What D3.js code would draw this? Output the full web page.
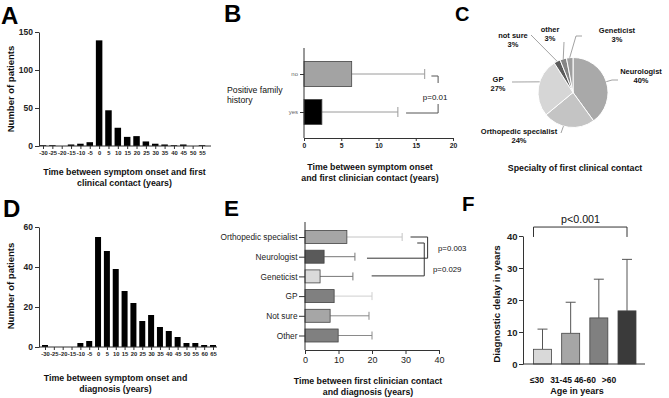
<!DOCTYPE html>
<html>
<head>
<meta charset="utf-8">
<script src="https://cdn.jsdelivr.net/npm/d3@7"></script>
<style>
  body { margin: 0; background: #fff; }
  svg { display: block; }
</style>
</head>
<body>
<svg width="669" height="398"></svg>
<script>
// ---- data ----
// A: time between symptom onset and first clinical contact
const onsetBins = [-30, -25, -20, -15, -10, -5, 0, 5, 10, 15, 20, 25, 30, 35, 40, 45, 50, 55];
const onsetCounts = [1, 1, 0, 2, 3, 5, 139, 47, 24, 12, 13, 6, 3, 2, 1, 2, 0, 1];
// D: time between symptom onset and diagnosis
const diagBins = [-30, -25, -20, -15, -10, -5, 0, 5, 10, 15, 20, 25, 30, 35, 40, 45, 50, 55, 60, 65];
const diagCounts = [1, 0, 0, 0, 2, 3, 55, 48, 39, 28, 22, 13, 16, 10, 8, 5, 2, 2, 1, 1];
// B: positive family history
const familyGroups = ['no', 'yes'];
const familyMean = [6.4, 2.4];
const familyUpper = [16.2, 12.6];
// C: specialty of first clinical contact (%)
const specialties = ['Neurologist', 'Orthopedic specialist', 'GP', 'not sure', 'other', 'Geneticist'];
const specialtyPct = [40, 24, 27, 3, 3, 3];
// E: first clinician contact -> diagnosis
const clinicians = ['Orthopedic specialist', 'Neurologist', 'Geneticist', 'GP', 'Not sure', 'Other'];
const clinicianMean = [12.5, 5.7, 4.5, 8.7, 7.5, 9.9];
const clinicianUpper = [29, 14.9, 14.3, 20, 19.1, 20];
// F: diagnostic delay by age
const ageGroups = ['≤30', '31-45', '46-60', '>60'];
const ageMean = [4.6, 9.6, 14.4, 16.6];
const ageUpper = [10.9, 19.3, 26.5, 32.7];

const svg = d3.select('svg');
const font = '"Liberation Sans", Arial, sans-serif';
const ink = '#333';

const styleAxis = (g, size, weight, color) => {
  g.attr('font-family', font).attr('font-size', size).attr('font-weight', weight);
  g.selectAll('line').attr('stroke', ink);
  g.selectAll('path').attr('stroke', ink);
  g.selectAll('text').attr('fill', color || '#222');
};

const text = (x, y, lines, size, weight, anchor, lh) => {
  const t = svg.append('text')
    .attr('x', x).attr('y', y)
    .attr('font-family', font).attr('font-size', size)
    .attr('font-weight', weight || 'normal')
    .attr('text-anchor', anchor || 'middle')
    .attr('fill', '#111');
  [].concat(lines).forEach((s, i) => {
    t.append('tspan').attr('x', x).attr('dy', i ? lh : 0).text(s);
  });
  return t;
};

const vtext = (x, y, str, size) => svg.append('text')
  .attr('transform', `translate(${x},${y}) rotate(-90)`)
  .attr('font-family', font).attr('font-size', size).attr('font-weight', 'bold')
  .attr('text-anchor', 'middle').attr('fill', '#111').text(str);

const line = (pts, color, w) => svg.append('path')
  .attr('d', d3.line()(pts)).attr('fill', 'none')
  .attr('stroke', color || ink).attr('stroke-width', w || 1);

const panelLetter = (x, y, s, size) => svg.append('text')
  .attr('x', x).attr('y', y).text(s)
  .attr('font-family', font).attr('font-weight', 'bold')
  .attr('font-size', size).attr('fill', '#000');

// ---- histograms A and D ----
const histogram = (bins, counts, o) => {
  const x = d3.scalePoint().domain(bins).range(o.xr);
  const y = d3.scaleLinear().domain([0, o.ymax]).range(o.yr);

  svg.append('g').selectAll('rect').data(bins).join('rect')
    .attr('x', d => x(d) - o.bw / 2)
    .attr('width', o.bw)
    .attr('y', (d, i) => y(counts[i]))
    .attr('height', (d, i) => y(0) - y(counts[i]))
    .attr('fill', '#000');

  const gy = svg.append('g')
    .attr('transform', `translate(${o.x0},0)`)
    .call(d3.axisLeft(y).tickValues(o.yticks).tickSize(4).tickPadding(2).tickSizeOuter(0));
  styleAxis(gy, 8.5, 'bold');

  const gx = svg.append('g')
    .attr('transform', `translate(0,${y(0)})`)
    .call(d3.axisBottom(x).tickSize(3).tickPadding(2).tickFormat(d => String(d)));
  gx.select('.domain').remove();
  styleAxis(gx, 5.8, 'bold');
  line([[o.x0, y(0)], [o.xEnd, y(0)]], ink, 1);
};

histogram(onsetBins, onsetCounts, {
  xr: [43, 202], yr: [146, 32], ymax: 150, x0: 39, xEnd: 211, bw: 6.5, yticks: [0, 50, 100, 150]
});
vtext(13.5, 89, 'Number of patients', 9.5);
text(124.5, 174.5, ['Time between symptom onset and first', 'clinical contact (years)'], 8.8, 'bold', 'middle', 11.5);
panelLetter(1, 24, 'A', 24);

histogram(diagBins, diagCounts, {
  xr: [45, 213], yr: [347, 227], ymax: 60, x0: 39, xEnd: 217, bw: 6, yticks: [0, 20, 40, 60]
});
vtext(13.5, 286, 'Number of patients', 9.5);
text(115.5, 381, ['Time between symptom onset and', 'diagnosis (years)'], 8.8, 'bold', 'middle', 10.8);
panelLetter(3, 217, 'D', 24);

// ---- B: family history ----
{
  const x = d3.scaleLinear().domain([0, 20]).range([304, 453]);
  const y = d3.scalePoint().domain(familyGroups).range([74, 112]);
  const fills = ['#a3a3a3', '#000'];
  const bh = 25;

  familyGroups.forEach((g, i) => {
    line([[x(familyMean[i]), y(g)], [x(familyUpper[i]), y(g)]], '#9a9a9a', 1);
    line([[x(familyUpper[i]), y(g) - 5], [x(familyUpper[i]), y(g) + 5]], '#9a9a9a', 1);
  });
  svg.append('g').selectAll('rect').data(familyGroups).join('rect')
    .attr('x', x(0)).attr('y', d => y(d) - bh / 2)
    .attr('width', (d, i) => x(familyMean[i]) - x(0)).attr('height', bh)
    .attr('fill', (d, i) => fills[i]).attr('stroke', '#444').attr('stroke-width', 0.8);

  const gy = svg.append('g').attr('transform', `translate(${x(0)},0)`)
    .call(d3.axisLeft(y).tickSize(4).tickPadding(2));
  gy.select('.domain').remove();
  styleAxis(gy, 6, 'normal', '#666');
  line([[x(0), 48], [x(0), 138]], ink, 1);

  const gx = svg.append('g').attr('transform', 'translate(0,138)')
    .call(d3.axisBottom(x).tickValues([0, 5, 10, 15, 20]).tickSize(3).tickPadding(2).tickSizeOuter(0));
  styleAxis(gx, 6.8, 'bold');

  // significance bracket
  line([[x(17.1), y('no') + 2], [x(18), y('no') + 2], [x(18), y('no') + 9]], '#555', 1);
  line([[x(18), y('yes') - 8], [x(18), y('yes') + 1], [x(13.7), y('yes') + 1]], '#555', 1);
  text(x(17.6), 100, 'p=0.01', 8, 'normal', 'middle');

  text(227, 93, ['Positive family', 'history'], 8.7, 'normal', 'start', 10);
  text(370, 169.5, ['Time between symptom onset', 'and first clinician contact (years)'], 8.8, 'bold', 'middle', 11.5);
  panelLetter(224, 22, 'B', 24);
}

// ---- C: pie ----
{
  const cx = 573, cy = 92.5, r = 35;
  const fills = ['#a9a9a9', '#c4c4c4', '#d6d6d6', '#5c5c5c', '#858585', '#9e9e9e'];
  const pie = d3.pie().sort(null).value(d => d)(specialtyPct);
  const arc = d3.arc().innerRadius(0).outerRadius(r);
  const g = svg.append('g').attr('transform', `translate(${cx},${cy})`);
  g.selectAll('path').data(pie).join('path')
    .attr('d', arc).attr('fill', (d, i) => fills[i])
    .attr('stroke', '#fff').attr('stroke-width', 1);

  // label layout: where the leader leaves the slice (fraction), elbow points, text anchor
  const layout = [
    { t: 0.5, to: [[612, 80], [618, 80]], x: 641, y: 74 },
    { t: 0.6, to: [[561, 133]], x: 519, y: 134 },
    { t: 0.59, to: [[512, 82]], x: 498, y: 82 },
    { t: 0.5, to: [[531, 35]], x: 513, y: 38 },
    { t: 0.5, to: [[564, 42]], x: 550, y: 32 },
    { t: 0.5, to: [[576, 36], [582, 36]], x: 617, y: 33 }
  ];
  pie.forEach((p, i) => {
    const L = layout[i];
    const a = p.startAngle + (p.endAngle - p.startAngle) * L.t;
    const start = [cx + r * Math.sin(a), cy - r * Math.cos(a)];
    line([start, ...L.to], '#8a8a8a', 0.8);
    text(L.x, L.y, [specialties[i], specialtyPct[i] + '%'], 7.5, 'bold', 'middle', 8.5);
  });
  text(575, 171, 'Specialty of first clinical contact', 8.8, 'bold', 'middle');
  panelLetter(455, 21, 'C', 20);
}

// ---- E: first contact -> diagnosis ----
{
  const x = d3.scaleLinear().domain([0, 40]).range([305, 439]);
  const y = d3.scalePoint().domain(clinicians).range([237, 335.5]);
  const fills = ['#a6a6a6', '#5a5a5a', '#dadada', '#808080', '#a6a6a6', '#808080'];
  const whisk = ['#c4c4c4', '#777', '#777', '#cfcfcf', '#8a8a8a', '#8a8a8a'];
  const bh = 13;

  clinicians.forEach((c, i) => {
    line([[x(clinicianMean[i]), y(c)], [x(clinicianUpper[i]), y(c)]], whisk[i], 1);
    line([[x(clinicianUpper[i]), y(c) - 4], [x(clinicianUpper[i]), y(c) + 4]], whisk[i], 1);
  });
  svg.append('g').selectAll('rect').data(clinicians).join('rect')
    .attr('x', x(0)).attr('y', d => y(d) - bh / 2)
    .attr('width', (d, i) => x(clinicianMean[i]) - x(0)).attr('height', bh)
    .attr('fill', (d, i) => fills[i]).attr('stroke', '#444').attr('stroke-width', 0.8);

  const gy = svg.append('g').attr('transform', `translate(${x(0)},0)`)
    .call(d3.axisLeft(y).tickSize(6).tickPadding(1.5));
  gy.select('.domain').remove();
  styleAxis(gy, 8.3, 'normal', '#222');
  line([[x(0), 222], [x(0), 350]], ink, 1);

  const gx = svg.append('g').attr('transform', 'translate(0,350)')
    .call(d3.axisBottom(x).tickValues([0, 10, 20, 30, 40]).tickSize(4).tickPadding(3).tickSizeOuter(0));
  styleAxis(gx, 9, 'normal', '#222');

  // brackets
  const y0 = y('Orthopedic specialist');
  line([[x(31.5), y0], [x(36.6), y0], [x(36.6), y('Neurologist') + 1.5], [x(18.5), y('Neurologist') + 1.5]], '#333', 1);
  line([[x(33.5), y0 + 6], [x(35.6), y0 + 6], [x(35.6), y('Geneticist') - 0.5], [x(19.9), y('Geneticist') - 0.5]], '#333', 1);
  text(438, 251, 'p=0.003', 7.8, 'normal', 'start');
  text(433, 272, 'p=0.029', 7.8, 'normal', 'start');

  text(368, 383.5, ['Time between first clinician contact', 'and diagnosis (years)'], 8.8, 'bold', 'middle', 11);
  panelLetter(224, 216, 'E', 22.5);
}

// ---- F: delay by age ----
{
  const x = d3.scalePoint().domain(ageGroups).range([542.5, 627]);
  const xLab = d3.scalePoint().domain(ageGroups).range([537, 609]);
  const y = d3.scaleLinear().domain([0, 40]).range([364, 236]);
  const fills = ['#d9d9d9', '#a6a6a6', '#808080', '#3a3a3a'];
  const bw = 18;

  ageGroups.forEach((a, i) => {
    line([[x(a), y(ageMean[i])], [x(a), y(ageUpper[i])]], '#555', 1);
    line([[x(a) - 5, y(ageUpper[i])], [x(a) + 5, y(ageUpper[i])]], '#555', 1);
  });
  svg.append('g').selectAll('rect').data(ageGroups).join('rect')
    .attr('x', d => x(d) - bw / 2).attr('width', bw)
    .attr('y', (d, i) => y(ageMean[i])).attr('height', (d, i) => y(0) - y(ageMean[i]))
    .attr('fill', (d, i) => fills[i]).attr('stroke', '#444').attr('stroke-width', 0.8);

  const gy = svg.append('g').attr('transform', 'translate(523,0)')
    .call(d3.axisLeft(y).tickValues([0, 10, 20, 30, 40]).tickSize(4).tickPadding(1.5).tickSizeOuter(0));
  styleAxis(gy, 9.5, 'bold');
  line([[523, y(0)], [645, y(0)]], ink, 1);

  svg.append('g').selectAll('text').data(ageGroups).join('text')
    .attr('x', d => xLab(d)).attr('y', 383)
    .attr('text-anchor', 'middle').attr('font-family', font)
    .attr('font-size', 8.5).attr('font-weight', 'bold').attr('fill', '#111')
    .text(d => d);

  const top = y(42.8), foot = y(39.7);
  line([[x('≤30') - bw / 2, foot], [x('≤30') - bw / 2, top], [x('>60'), top], [x('>60'), foot]], '#333', 1);
  text(580.5, 222.5, 'p<0.001', 10.7, 'normal', 'middle');

  vtext(500, 304, 'Diagnostic delay in years', 9.8);
  text(577, 394, 'Age in years', 9, 'bold', 'middle');
  panelLetter(462, 211, 'F', 20.5);
}
</script>
</body>
</html>
